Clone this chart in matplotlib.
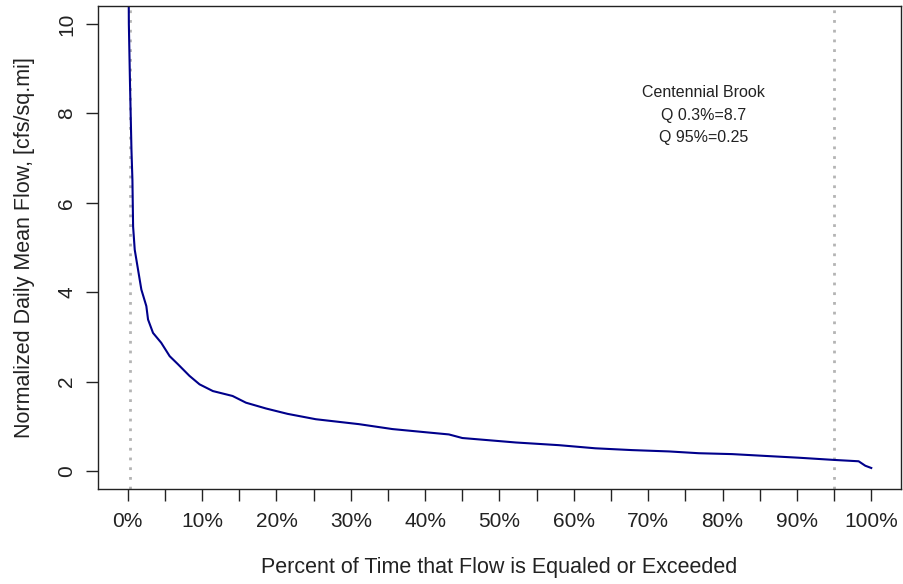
import matplotlib
matplotlib.use('Agg')
import matplotlib.pyplot as plt
import numpy as np

# flow duration curve
pct = [0.02, 0.15, 0.3, 0.5, 0.63, 0.72, 0.94, 1.39, 1.83, 2.5, 2.73, 3.4,
       4.5, 5.64, 6.75, 8.3, 9.66, 11.45, 14.1, 15.9, 18.6, 21.5, 25.3, 31.1,
       35.6, 40.0, 43.2, 45.0, 52.2, 58.0, 62.9, 67.8, 72.8, 76.8, 81.3, 85.7,
       90.2, 95.0, 98.3, 99.2, 100.0]
flow = [14.0, 10.0, 8.7, 7.18, 6.51, 5.47, 4.95, 4.50, 4.06, 3.69, 3.39, 3.09,
        2.87, 2.57, 2.39, 2.13, 1.94, 1.79, 1.68, 1.53, 1.40, 1.28, 1.16, 1.05,
        0.94, 0.87, 0.82, 0.74, 0.64, 0.58, 0.51, 0.47, 0.44, 0.40, 0.38, 0.34,
        0.30, 0.25, 0.22, 0.12, 0.07]
ref_pct = [0.3, 95]
x_ticks = list(range(0, 101, 5))
x_labels = [f'{t}%' if t % 10 == 0 else '' for t in x_ticks]
y_ticks = [0, 2, 4, 6, 8, 10]
site = 'Centennial Brook'
q_text = ['Q 0.3%=8.7', 'Q 95%=0.25']

plt.rcParams['font.family'] = ['Liberation Sans', 'DejaVu Sans']
ink = '#222222'

fig = plt.figure(figsize=(9.04, 5.84), dpi=100)
ax = fig.add_axes([98/904, 1-489/584, (901-98)/904, (489-6)/584])

for r in ref_pct:
    ax.axvline(r, color='#b4b4b4', lw=2, ls=(0, (1, 2.5)), zorder=1)
ax.plot(pct, flow, color='#00008B', lw=1.5, zorder=2)

ax.set_xlim(-4, 104)
ax.set_ylim(-0.4, 10.4)
ax.set_xticks(x_ticks)
ax.set_xticklabels(x_labels)
ax.set_yticks(y_ticks)
ax.set_yticklabels([str(t) for t in y_ticks], rotation=90, va='center')
ax.tick_params(direction='out', length=8.5, width=1, labelsize=15, colors=ink)
ax.tick_params(axis='x', pad=8)
ax.tick_params(axis='y', pad=7)
for s in ax.spines.values():
    s.set_linewidth(1)
    s.set_color(ink)

ax.set_xlabel('Percent of Time that Flow is Equaled or Exceeded',
              fontsize=15.5, color=ink, labelpad=18.5)
ax.set_ylabel('Normalized Daily Mean Flow, [cfs/sq.mi]',
              fontsize=15.5, color=ink, labelpad=16)

ax.text(77.4, 8.47, site, ha='center', va='center', fontsize=11.5, color=ink)
ax.text(77.4, 7.96, q_text[0], ha='center', va='center', fontsize=11.5, color=ink)
ax.text(77.4, 7.47, q_text[1], ha='center', va='center', fontsize=11.5, color=ink)

fig.savefig('out.png', dpi=100)
